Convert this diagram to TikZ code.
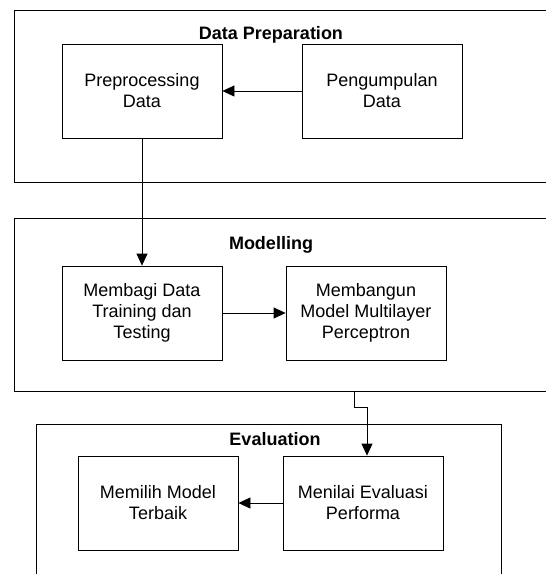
\documentclass[tikz,border=0pt]{standalone}
\usepackage{fontspec}
\setmainfont{Liberation Sans}
\usetikzlibrary{arrows.meta,calc}
\begin{document}
\begin{tikzpicture}[x=1pt,y=-1pt,
  every node/.style={font=\fontsize{18}{21}\selectfont},
  procbox/.style={draw=black,line width=0.8pt,minimum width=160pt,minimum height=94pt,align=center,inner sep=0pt},
  container/.style={draw=black,line width=0.8pt},
  title/.style={font=\fontsize{18}{21}\selectfont\bfseries,inner sep=0pt},
  arr/.style={draw=black,line width=0.8pt,-{Triangle[length=12pt,width=11pt]}}]
\useasboundingbox (0,0) rectangle (546,574);
% containers
\draw[container] (546,10) -- (14,10) -- (14,182) -- (546,182);
\draw[container] (546,218) -- (14,218) -- (14,391) -- (546,391);
\draw[container] (36,574) -- (36,424) -- (501,424) -- (501,574);
% titles
\node[title] (t1) at (271,35) {Data Preparation};
\node[title] (t2) at (271,245) {Modelling};
\node[title] (t3) at (275,439) {Evaluation};
% boxes
\node[procbox] (pp) at (142,91) {Preprocessing\\Data};
\node[procbox] (pg) at (382,91) {Pengumpulan\\Data};
\node[procbox] (mb) at (142,313) {Membagi Data\\Training dan\\Testing};
\node[procbox] (mg) at (366,313) {Membangun\\Model Multilayer\\Perceptron};
\node[procbox] (mm) at (158,503) {Memilih Model\\Terbaik};
\node[procbox] (mn) at (363,503) {Menilai Evaluasi\\Performa};
\coordinate (mo) at (354,391);
% connectors
\draw[arr] (pg.west) -- (pp.east);
\draw[arr] (pp.south) -- (mb.north);
\draw[arr] (mb.east) -- (mg.west);
\draw[arr] (mo) -- ++(0,16) -| ([xshift=4pt]mn.north);
\draw[arr] (mn.west) -- (mm.east);
\end{tikzpicture}
\end{document}
